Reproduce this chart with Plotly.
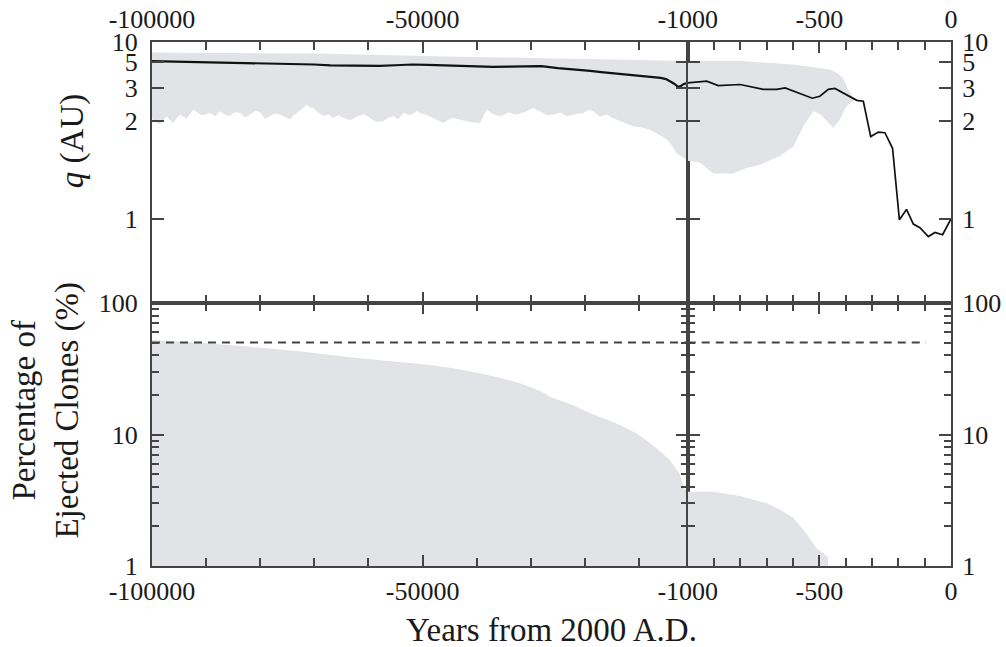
import plotly.graph_objects as go

# ---------------- data ----------------
# Top panel: perihelion distance q (AU), nominal orbit and clone envelope
Q_LEFT_X = [-100000, -97000, -94000, -91000, -88000, -85000, -82000, -79000, -76000, -73000,
            -70000, -67000, -64000, -61000, -58000, -55000, -52000, -49000, -46000, -43000,
            -40000, -37000, -34000, -31000, -28000, -25000, -23000, -21000, -19000, -17000,
            -15000, -13000, -11000, -9000, -7000, -6000, -5000, -4200, -3500, -2800,
            -2300, -1800, -1400, -1000]
Q_LEFT = [5.07, 5.03, 4.98, 4.94, 4.90, 4.85, 4.80, 4.75, 4.72, 4.68,
          4.66, 4.57, 4.54, 4.50, 4.52, 4.58, 4.66, 4.62, 4.55, 4.47,
          4.43, 4.41, 4.43, 4.45, 4.49, 4.30, 4.23, 4.14, 4.05, 3.95,
          3.87, 3.79, 3.70, 3.64, 3.57, 3.54, 3.46, 3.33, 3.20, 3.05,
          3.08, 3.18, 3.22, 3.25]

Q_RIGHT_X = [-1000, -928, -884, -801, -713, -662, -630, -574, -527, -498, -466, -441, -390,
             -358, -333, -305, -276, -251, -222, -196, -169, -143, -118, -86, -61, -32, 0]
Q_RIGHT = [3.25, 3.34, 3.11, 3.16, 2.93, 2.93, 3.00, 2.75, 2.59, 2.66, 2.93, 2.97, 2.66,
           2.52, 2.49, 1.72, 1.79, 1.78, 1.56, 0.995, 1.05, 0.974, 0.957, 0.917, 0.935, 0.925, 1.0]

BAND_L_UP_X = [-100000, -80000, -70000, -50000, -30000, -17000, -1000]
BAND_L_UP = [6.5, 6.45, 6.3, 5.85, 5.55, 5.3, 5.07]
BAND_L_LO_X = [-100000, -99760, -98500, -97280, -96700, -96060, -95400, -94830, -93600, -92370,
               -90800, -89280, -88300, -87430, -86500, -85590, -84700, -83740, -82800, -81890,
               -80900, -80040, -79100, -78190, -77300, -76350, -75400, -74500, -73900, -73260,
               -72300, -71410, -70800, -70190, -69300, -68340, -67400, -66500, -65600, -64650,
               -63400, -62170, -60900, -59710, -58500, -57260, -56300, -55410, -54500, -53560,
               -52300, -51080, -50100, -49240, -47700, -46170, -44600, -43080, -41200, -39390,
               -38700, -38150, -36900, -35690, -34100, -32610, -31000, -29530, -28900, -28300,
               -27000, -25840, -24600, -23370, -21800, -20290, -19400, -18450, -17200, -15970,
               -15000, -14120, -12600, -11050, -9500, -7970, -6400, -4890, -3900, -3030,
               -2000, -1000]
BAND_L_LO = [2.05, 1.99, 1.93, 2.09, 2.01, 1.95, 2.06, 2.13, 2.04, 2.25,
             2.11, 2.17, 2.09, 2.21, 2.12, 2.10, 2.19, 2.17, 2.06, 2.13,
             2.22, 2.19, 2.04, 2.09, 2.16, 2.13, 2.07, 2.02, 2.11, 2.17,
             2.26, 2.39, 2.31, 2.30, 2.18, 2.10, 2.13, 2.05, 2.12, 2.06,
             2.00, 2.08, 2.14, 2.05, 1.97, 1.99, 2.06, 2.10, 2.03, 2.17,
             2.12, 2.21, 2.15, 2.12, 2.03, 1.95, 2.06, 2.02, 1.97, 1.95,
             2.10, 2.25, 2.14, 2.09, 2.18, 2.13, 2.20, 2.30, 2.24, 2.21,
             2.11, 2.13, 2.18, 2.09, 2.14, 2.17, 2.24, 2.21, 2.08, 2.13,
             2.06, 2.02, 1.95, 1.89, 1.87, 1.83, 1.75, 1.68, 1.59, 1.50,
             1.46, 1.42]

BAND_R_UP_X = [-1000, -800, -600, -510, -460, -434, -410, -391, -371, -360]
BAND_R_UP = [5.1, 5.07, 4.67, 4.35, 4.17, 3.9, 3.54, 2.93, 2.62, 2.55]
BAND_R_LO_X = [-1000, -953, -902, -827, -776, -725, -650, -599, -561, -523, -498, -447,
               -422, -397, -371, -360]
BAND_R_LO = [1.42, 1.40, 1.30, 1.30, 1.35, 1.38, 1.47, 1.58, 1.89, 2.21, 2.15, 1.86,
             2.02, 2.34, 2.50, 2.55]

Q_TICKS = [10, 5, 3, 2, 1]
Q_MIN = 0.7

# Bottom panel: percentage of ejected clones (%)
PCT_L_X = [-100000, -90000, -81890, -72000, -63410, -56000, -48630, -44000, -39390, -35000,
           -31990, -28000, -26450, -22000, -19060, -16000, -13510, -10500, -7970, -6000,
           -4270, -2500, -1600, -1000]
PCT_L = [52.3, 49.5, 46.5, 42.5, 38.7, 36.0, 33.8, 31.7, 29.2, 26.6,
         24.5, 21.2, 19.4, 16.6, 14.5, 13.0, 11.8, 10.2, 8.6, 7.4,
         6.4, 5.0, 3.9, 3.67]
PCT_R_X = [-1000, -903, -801, -700, -649, -599, -549, -510, -467]
PCT_R = [3.67, 3.67, 3.4, 3.0, 2.68, 2.33, 1.77, 1.36, 1.17]
PCT_BASE = 1
PCT_REF = 50
REF_L_X = [-100000, -1000]
REF_R_X = [-1000, -95]

X_LEFT_TICKS = [-100000, -50000]
X_RIGHT_TICKS = [-1000, -500, 0]

# ---------------- style ----------------
FONT = "Liberation Serif"
FILL = "rgb(226,227,230)"
AXC = "#444444"
TXT = "#1a1a1a"
XSPLIT = 0.6705
YSPLIT = 0.5019


def inv(vals):
    return [1.0 / v for v in vals]


fig = go.Figure()

# top-left band + line
fig.add_trace(go.Scatter(x=BAND_L_UP_X + BAND_L_LO_X[::-1], y=inv(BAND_L_UP + BAND_L_LO[::-1]),
                         fill="toself", fillcolor=FILL, mode="lines", line=dict(width=0),
                         xaxis="x", yaxis="y", hoverinfo="skip"))
fig.add_trace(go.Scatter(x=Q_LEFT_X, y=inv(Q_LEFT), mode="lines",
                         line=dict(color="#111111", width=2.2), xaxis="x", yaxis="y"))
# top-right band + line
fig.add_trace(go.Scatter(x=BAND_R_UP_X + BAND_R_LO_X[::-1], y=inv(BAND_R_UP + BAND_R_LO[::-1]),
                         fill="toself", fillcolor=FILL, mode="lines", line=dict(width=0),
                         xaxis="x2", yaxis="y2", hoverinfo="skip"))
fig.add_trace(go.Scatter(x=Q_RIGHT_X, y=inv(Q_RIGHT), mode="lines",
                         line=dict(color="#111111", width=1.7), xaxis="x2", yaxis="y2"))
# bottom-left
fig.add_trace(go.Scatter(x=PCT_L_X + [PCT_L_X[-1], PCT_L_X[0]], y=PCT_L + [PCT_BASE, PCT_BASE],
                         fill="toself", fillcolor=FILL, mode="lines", line=dict(width=0),
                         xaxis="x3", yaxis="y3", hoverinfo="skip"))
fig.add_trace(go.Scatter(x=REF_L_X, y=[PCT_REF] * len(REF_L_X), mode="lines",
                         line=dict(color=AXC, width=2, dash="8px,6px"), xaxis="x3", yaxis="y3"))
# bottom-right
fig.add_trace(go.Scatter(x=PCT_R_X + [PCT_R_X[-1], PCT_R_X[0]], y=PCT_R + [PCT_BASE, PCT_BASE],
                         fill="toself", fillcolor=FILL, mode="lines", line=dict(width=0),
                         xaxis="x4", yaxis="y4", hoverinfo="skip"))
fig.add_trace(go.Scatter(x=REF_R_X, y=[PCT_REF] * len(REF_R_X), mode="lines",
                         line=dict(color=AXC, width=2, dash="8px,6px"), xaxis="x4", yaxis="y4"))

base = dict(showline=True, linecolor=AXC, linewidth=2, mirror="ticks", ticks="inside",
            tickcolor=AXC, tickwidth=2, showgrid=False, zeroline=False, automargin=False,
            tickfont=dict(family=FONT, size=26, color=TXT))


def xax(domain, anchor, side, rng, tv, minor_step, standoff):
    minor_vals = list(range(int(rng[0]) + minor_step, int(rng[1]), minor_step))
    return dict(base, domain=domain, anchor=anchor, side=side, range=rng,
                tickmode="array", tickvals=tv, ticktext=[str(v) for v in tv],
                ticklen=11, ticklabelstandoff=standoff,
                minor=dict(tickmode="array", tickvals=minor_vals, ticks="inside",
                           ticklen=8, tickcolor=AXC, tickwidth=2, showgrid=False))


qv = inv(Q_TICKS)


def yq(domain, anchor, side, standoff):
    return dict(base, domain=domain, anchor=anchor, side=side, type="linear",
                range=[1.0 / Q_MIN, 0.1], tickmode="array", tickvals=qv,
                ticktext=[str(v) for v in Q_TICKS], ticklen=12, ticklabelstandoff=standoff)


PCT_MAJOR = [1, 10, 100]
PCT_MINOR = [m * d for d in (1, 10) for m in range(2, 10)]


def yp(domain, anchor, side, standoff):
    return dict(base, domain=domain, anchor=anchor, side=side, type="log",
                range=[0, 2], tickmode="array", tickvals=PCT_MAJOR,
                ticktext=[str(v) for v in PCT_MAJOR], ticklen=12, ticklabelstandoff=standoff,
                minor=dict(tickmode="array", tickvals=PCT_MINOR, ticks="inside",
                           ticklen=7, tickcolor=AXC, tickwidth=2, showgrid=False))


fig.update_layout(
    width=1006, height=647,
    margin=dict(l=152, r=55, t=42, b=81, autoexpand=False),
    paper_bgcolor="white", plot_bgcolor="white",
    showlegend=False,
    xaxis=xax([0, XSPLIT], "y", "top", [-100000, -1000], X_LEFT_TICKS, 10000, 2),
    xaxis2=xax([XSPLIT, 1], "y2", "top", [-1000, 0], X_RIGHT_TICKS, 100, 2),
    xaxis3=xax([0, XSPLIT], "y3", "bottom", [-100000, -1000], X_LEFT_TICKS, 10000, 1),
    xaxis4=xax([XSPLIT, 1], "y4", "bottom", [-1000, 0], X_RIGHT_TICKS, 100, 1),
    yaxis=yq([YSPLIT, 1], "x", "left", 7),
    yaxis2=yq([YSPLIT, 1], "x2", "right", 4),
    yaxis3=yp([0, YSPLIT], "x3", "left", 7),
    yaxis4=yp([0, YSPLIT], "x4", "right", 4),
    annotations=[
        dict(text="<i>q</i> (AU)", xref="paper", yref="paper", x=-0.100, y=0.811,
             textangle=-90, showarrow=False, xanchor="center", yanchor="middle",
             font=dict(family=FONT, size=33, color=TXT)),
        dict(text="Percentage of<br>Ejected Clones (%)", xref="paper", yref="paper",
             x=-0.133, y=0.298, textangle=-90, showarrow=False, xanchor="center",
             yanchor="middle", font=dict(family=FONT, size=33, color=TXT)),
        dict(text="Years from 2000 A.D.", xref="paper", yref="paper", x=0.4994, y=-0.122,
             showarrow=False, xanchor="center", yanchor="middle",
             font=dict(family=FONT, size=33, color=TXT)),
    ],
)

fig.write_html("out.html", config={"displayModeBar": False},
               post_script="document.body.style.margin='0';")
